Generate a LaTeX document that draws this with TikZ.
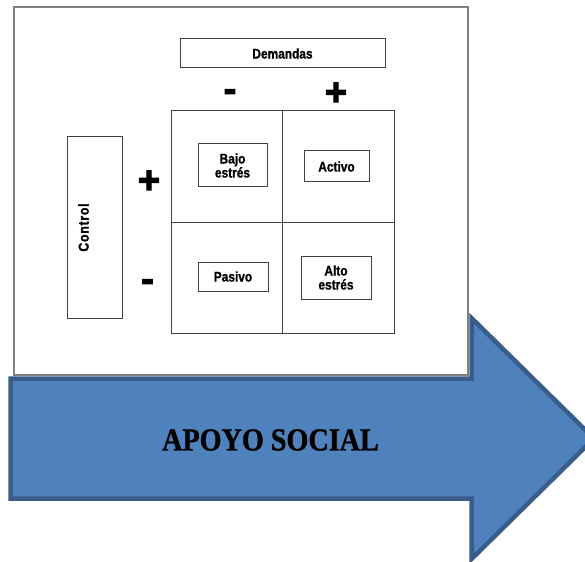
\documentclass[tikz,border=0pt]{standalone}
\usepackage{fontspec}
\newfontfamily\labfont[FakeStretch=0.85,FakeBold=1]{Liberation Sans}
\newfontfamily\ctlfont[FakeStretch=0.85,FakeBold=1,LetterSpace=5]{Liberation Sans}
\newfontfamily\signfont[FakeBold=3]{Liberation Sans}
\newfontfamily\apoyofont[FakeStretch=0.88,FakeBold=1]{Liberation Serif}
\definecolor{arrowfill}{HTML}{4F81BD}
\definecolor{arrowline}{HTML}{385D8A}
\definecolor{boxline}{HTML}{404040}
\definecolor{frameline}{HTML}{808080}
\begin{document}
\begin{tikzpicture}[x=1pt,y=-1pt,
  lbox/.style={draw=boxline, line width=1pt, inner sep=0pt, align=center,
    font=\labfont\bfseries\fontsize{14}{14}\selectfont},
  signtxt/.style={inner sep=0pt, anchor=base, font=\signfont\bfseries\fontsize{38}{38}\selectfont},
  gridline/.style={draw=boxline, line width=1pt},
  framebox/.style={draw=frameline, line width=1.4pt, fill=white},
  bigarrow/.style={draw=arrowline, fill=arrowfill, line width=4.5pt, miter limit=20}
]
\useasboundingbox (0,0) rectangle (585,561);
\clip (0,0) rectangle (585,561);
% outer frame
\draw[framebox] (14,7) rectangle (468,375);
% demandas
\node[lbox, minimum width=205pt, minimum height=29pt] (dem) at (282.5,53.5) {Demandas};
% signs
\node[signtxt] (dminus) at (230,93+8.5) {-};
\node[signtxt] (dplus) at (336,92+13) {+};
\node[signtxt] (cplus) at (149,180+13) {+};
\node[signtxt] (cminus) at (147.5,283+8.5) {-};
% control box
\node[lbox, minimum width=55pt, minimum height=181pt] (ctl) at (94.5,227.5) {};
\node[inner sep=0pt, rotate=90, font=\ctlfont\bfseries\fontsize{14.5}{13}\selectfont] (ctltxt) at (83.5,227.5) {Control};
% grid
\node[gridline, minimum width=223pt, minimum height=222pt, inner sep=0pt] (grid) at (282.5,222) {};
\draw[gridline] (grid.north) -- (grid.south);
\draw[gridline] (grid.west) -- (grid.east);
% quadrant boxes
\node[lbox, minimum width=69pt, minimum height=43pt] (bajo) at (232.5,165.5) {Bajo\\estrés};
\node[lbox, minimum width=65pt, minimum height=31pt] (activo) at (336.5,166.5) {Activo};
\node[lbox, minimum width=70pt, minimum height=29pt] (pasivo) at (233,276.5) {Pasivo};
\node[lbox, minimum width=70pt, minimum height=43pt] (alto) at (336,277.5) {Alto\\estrés};
% big arrow
\draw[bigarrow] (10.5,378.5) coordinate (a1) -- (471.5,378.5) -- (471.5,318) -- (594,438.5) coordinate (tip)
  -- (471.5,559) -- (471.5,498.5) -- (10.5,498.5) -- cycle;
\node[inner sep=0pt, font=\apoyofont\bfseries\fontsize{32}{32}\selectfont] (apoyo) at (270.5,440) {APOYO SOCIAL};
\end{tikzpicture}
\end{document}
